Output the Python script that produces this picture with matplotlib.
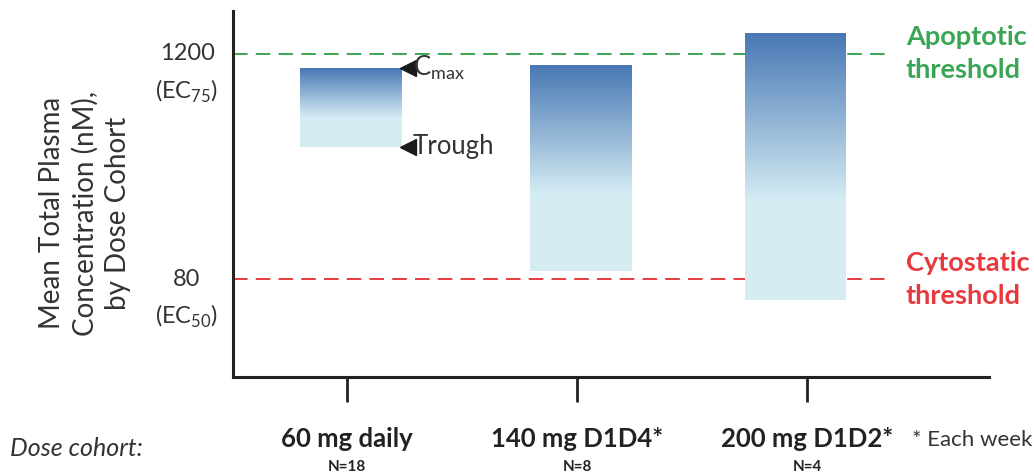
import matplotlib
matplotlib.use("Agg")
import matplotlib.pyplot as plt
import numpy as np
from matplotlib.colors import LinearSegmentedColormap
from matplotlib import transforms

# ---- data ----
cohorts = ["60 mg daily", "140 mg D1D4*", "200 mg D1D2*"]
n_labels = ["N=18", "N=8", "N=4"]
cmax = [1013, 1051, 1545]
trough = [392, 88, 62]
apoptotic = 1200
cytostatic = 80
ytick_vals = [1200, 80]
ytick_main = ["1200", "80"]
ytick_sub = ["(EC$_{\\mathregular{75}}$)", "(EC$_{\\mathregular{50}}$)"]

FONT = "Lato"
plt.rcParams['font.family'] = [FONT, 'DejaVu Sans']
plt.rcParams['mathtext.fontset'] = 'custom'
plt.rcParams['mathtext.rm'] = FONT

fig = plt.figure(figsize=(10.34, 4.72), dpi=100)
ax = fig.add_axes([233/1034, 1-377/472, (989-233)/1034, (377-11)/472])
ax.set_yscale('log')
ax.set_xlim(-0.496, 2.791)
ax.set_ylim(24.6, 2013)

green = "#3aa655"
red = "#e63a3f"
txt = "#333333"
dark = np.array([72, 120, 180]) / 255
light = np.array([213, 236, 243]) / 255
cmap = LinearSegmentedColormap.from_list("g", [(0.0, dark), (0.63, light), (1.0, light)])

width = 0.44
offsets = [0.017, 0.017, -0.05]
for i, (top, bot) in enumerate(zip(cmax, trough)):
    x0 = i + offsets[i] - width / 2
    edges = np.geomspace(bot, top, 160)
    frac = np.linspace(1, 0, 159)
    ax.pcolormesh([x0, x0 + width], edges, frac[:, None], cmap=cmap, vmin=0, vmax=1,
                  shading='flat', zorder=2)

# threshold lines
xend = (891 - 347) / 230
ax.plot([-0.496, xend], [apoptotic, apoptotic], color=green, lw=1.4,
        dashes=(7.5, 4.2), zorder=1, clip_on=False)
ax.plot([-0.496, xend], [cytostatic, cytostatic], color=red, lw=1.4,
        dashes=(7.5, 4.2), zorder=1, clip_on=False)

ax.text(2.43, apoptotic, "Apoptotic\nthreshold", color=green, fontsize=19.5,
        fontweight='bold', va='center', ha='left', linespacing=1.45)
ax.text(2.43, cytostatic, "Cytostatic\nthreshold", color=red, fontsize=19.5,
        fontweight='bold', va='center', ha='left', linespacing=1.45)

# Cmax / trough markers on first bar
mx = 0 + offsets[0] + width / 2 + 0.026
ax.plot([mx, mx], [cmax[0], trough[0]], linestyle='none', marker='<',
        markersize=11, color='#1a1a1a', zorder=3, clip_on=False)
ax.text(mx + 0.022, cmax[0], "C$_{\\mathregular{max}}$", fontsize=18.5, va='center',
        ha='left', color=txt)
ax.text(mx + 0.022, trough[0], "Trough", fontsize=18.5, va='center', ha='left',
        color=txt)

# axes styling
for s in ['top', 'right']:
    ax.spines[s].set_visible(False)
for s in ['left', 'bottom']:
    ax.spines[s].set_linewidth(2.2)
    ax.spines[s].set_color('#222222')

ax.set_yticks(ytick_vals)
ax.set_yticklabels([])
ax.yaxis.set_minor_locator(matplotlib.ticker.NullLocator())
ax.tick_params(axis='y', length=0)
ytrans = transforms.blended_transform_factory(fig.transFigure, ax.transData)
for v, m, s in zip(ytick_vals, ytick_main, ytick_sub):
    ax.text(187/1034, v, m, transform=ytrans, ha='center', va='center',
            fontsize=17, color=txt)
    ax.annotate(s, xy=(187/1034, v), xycoords=ytrans, xytext=(0, -27),
                textcoords='offset points', ha='center', va='center',
                fontsize=17, color=txt)

fig.text(85/1034, 1-213/472, "Mean Total Plasma\nConcentration (nM),\nby Dose Cohort",
         rotation=90, fontsize=20, color=txt, linespacing=1.3,
         ha='center', va='center', multialignment='center')

ax.set_xticks(range(len(cohorts)))
ax.set_xticklabels([])
ax.tick_params(axis='x', length=18, width=2, color='#222222', direction='out')
for i, (c, n) in enumerate(zip(cohorts, n_labels)):
    ax.text(i, -0.17, c, transform=ax.get_xaxis_transform(), ha='center',
            va='center', fontsize=18.5, fontweight='bold', color='#222222')
    ax.text(i, -0.245, n, transform=ax.get_xaxis_transform(), ha='center',
            va='center', fontsize=11, fontweight='bold', color='#222222')

fig.text(10/1034, 1-448/472, "Dose cohort:", fontsize=18, style='italic',
         color=txt, va='center', ha='left')
fig.text(912/1034, 1-440/472, "* Each week", fontsize=16, color=txt,
         va='center', ha='left')

fig.savefig("out.png", dpi=100)
